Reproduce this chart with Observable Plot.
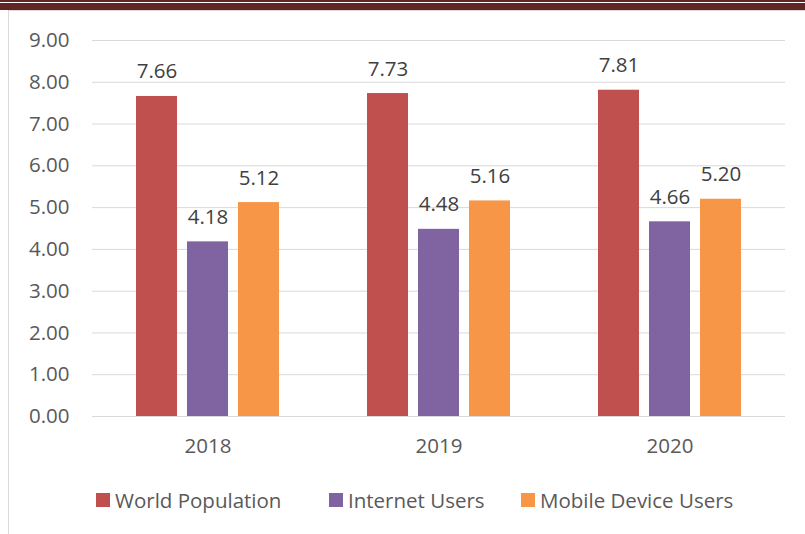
<!DOCTYPE html>
<html>
<head>
<meta charset="utf-8">
<script src="https://cdn.jsdelivr.net/npm/d3@7"></script>
<script src="https://cdn.jsdelivr.net/npm/@observablehq/plot@0.6"></script>
<style>
  html, body { margin: 0; padding: 0; background: #fff; }
  #wrap { position: relative; width: 805px; height: 534px; overflow: hidden; font-family: "Open Sans", sans-serif; }
  .bar-thin { position: absolute; left: 0; top: 0; width: 805px; height: 2px; background: #632523; }
  .bar-thick { position: absolute; left: 0; top: 3px; width: 805px; height: 7px; background: #632523; }
  .frame-top { position: absolute; left: 8px; top: 10px; width: 797px; height: 1px; background: #d9d9d9; }
  .frame-left { position: absolute; left: 8px; top: 10px; width: 1px; height: 524px; background: #d9d9d9; }
  #chart { position: absolute; left: 0; top: 0; }
  .legend-item { position: absolute; top: 486px; display: flex; align-items: center; font-size: 20.5px; color: #595959; white-space: nowrap; }
  .legend-item .sw { width: 14px; height: 14px; margin-right: 5px; }
</style>
</head>
<body>
<div id="wrap">
  <div class="bar-thin"></div>
  <div class="bar-thick"></div>
  <div class="frame-top"></div>
  <div class="frame-left"></div>
  <div id="chart"></div>
  <div id="legend"></div>
</div>
<script>
const years = ["2018", "2019", "2020"];
const series = ["World Population", "Internet Users", "Mobile Device Users"];
const worldPopulation = [7.66, 7.73, 7.81];
const internetUsers = [4.18, 4.48, 4.66];
const mobileUsers = [5.12, 5.16, 5.20];
const colors = ["#C0504D", "#8064A2", "#F79646"];
const yTicks = [0, 1, 2, 3, 4, 5, 6, 7, 8, 9];

const valuesBySeries = [worldPopulation, internetUsers, mobileUsers];
const data = [];
years.forEach((yr, i) => {
  series.forEach((s, j) => {
    data.push({year: yr, series: s, value: valuesBySeries[j][i]});
  });
});

const chart = Plot.plot({
  width: 805,
  height: 470,
  marginTop: 40,
  marginBottom: 54,
  marginLeft: 91,
  marginRight: 20,
  style: {fontFamily: "Open Sans, sans-serif", fontSize: "20.5px", color: "#595959", background: "transparent"},
  fx: {domain: years, padding: 0, label: null, axis: "bottom", tickSize: 0, tickPadding: 22},
  x: {domain: series, paddingInner: 0.2, paddingOuter: 0.845, axis: null},
  y: {domain: [0, 9], ticks: yTicks, tickFormat: d => d.toFixed(2), tickSize: 0, tickPadding: 23, label: null},
  color: {domain: series, range: colors},
  marks: [
    Plot.ruleY(yTicks, {stroke: "#d9d9d9", strokeWidth: 1}),
    Plot.barY(data, {fx: "year", x: "series", y: "value", fill: "series"}),
    Plot.text(data, {fx: "year", x: "series", y: "value", text: d => d.value.toFixed(2), lineAnchor: "bottom", dy: -18, fill: "#404040", fontSize: 20.5})
  ]
});
document.getElementById("chart").appendChild(chart);

const legend = document.getElementById("legend");
const lefts = [96, 329, 521];
series.forEach((s, i) => {
  const item = document.createElement("div");
  item.className = "legend-item";
  item.style.left = lefts[i] + "px";
  const sw = document.createElement("span");
  sw.className = "sw";
  sw.style.background = colors[i];
  const t = document.createElement("span");
  t.textContent = s;
  item.appendChild(sw);
  item.appendChild(t);
  legend.appendChild(item);
});
</script>
</body>
</html>
